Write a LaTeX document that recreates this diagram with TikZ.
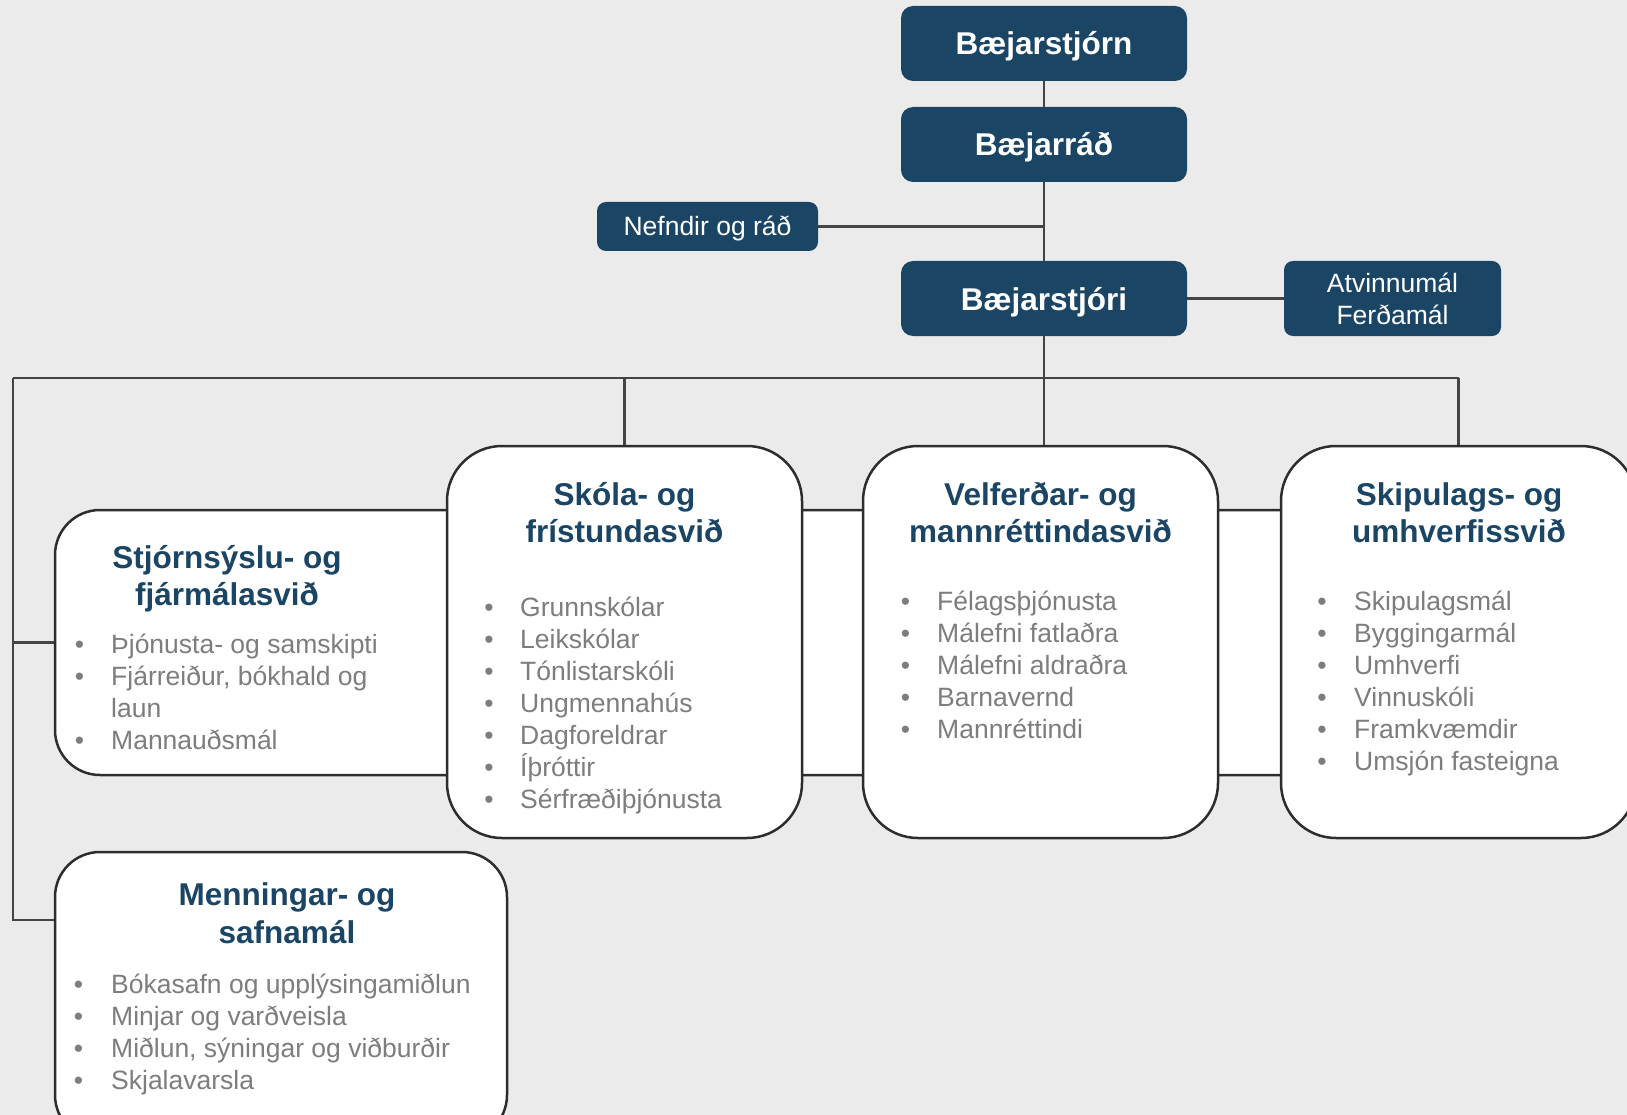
\documentclass[tikz,border=0pt]{standalone}
\usepackage{fontspec}
\setmainfont{Liberation Sans}
\definecolor{navy}{RGB}{27,69,101}
\definecolor{itemgray}{RGB}{125,125,125}
\definecolor{bgc}{RGB}{235,235,235}
\definecolor{linec}{RGB}{68,68,68}
\definecolor{borderc}{RGB}{45,45,45}
\pgfdeclarelayer{bg}
\pgfsetlayers{bg,main}
\begin{document}
\begin{tikzpicture}[x=1pt,y=-1pt,
  darkbox/.style={rectangle, rounded corners=12pt, fill=navy, text=white, inner sep=0pt,
    font=\bfseries\fontsize{31.5}{38}\selectfont, minimum width=286pt, minimum height=75pt,
    text height=23pt, text depth=0pt},
  smallbox/.style={rectangle, rounded corners=9pt, fill=navy, text=white, inner sep=0pt, align=center,
    font=\fontsize{26.5}{32}\selectfont},
  whitebox/.style={rectangle, fill=white, draw=borderc, line width=2.5pt, inner sep=0pt},
  conn/.style={draw=linec, line width=2.5pt},
  ttl/.style={text=navy, font=\bfseries\fontsize{31.5}{38}\selectfont, inner sep=0pt, anchor=base},
  itm/.style={text=itemgray, font=\fontsize{26.5}{32}\selectfont, inner sep=0pt, anchor=base west},
  bdot/.style={text=itemgray, font=\fontsize{26.5}{32}\selectfont, inner sep=0pt, anchor=base}
]
\useasboundingbox (0,0) rectangle (1627,1115);
\clip (0,0) rectangle (1627,1115);

% ---------- boxes ----------
\node[whitebox, rounded corners=45pt, minimum width=1445pt, minimum height=265pt] (band) at (777.5,642.5) {};
\node[whitebox, rounded corners=55pt, minimum width=355pt, minimum height=392pt] (skola) at (624.5,642) {};
\node[whitebox, rounded corners=55pt, minimum width=355pt, minimum height=392pt] (velf) at (1040.5,642) {};
\node[whitebox, rounded corners=55pt, minimum width=355pt, minimum height=392pt] (skip) at (1458.5,642) {};
\node[whitebox, rounded corners=45pt, minimum width=452pt, minimum height=288pt] (menn) at (281,996) {};

\node[darkbox] (b1) at (1044,43.5) {Bæjarstjórn};
\node[darkbox] (b2) at (1044,144.5) {Bæjarráð};
\node[darkbox] (b3) at (1044,298.5) {Bæjarstjóri};
\node[smallbox, minimum width=221pt, minimum height=49pt, text height=19pt, text depth=0pt] (nef) at (707.5,226.5) {Nefndir og ráð};
\node[smallbox, minimum width=217pt, minimum height=75pt] (atv) at (1392.5,298.5) {Atvinnumál\\Ferðamál};

% ---------- connectors ----------
\coordinate (barL) at (13,378);
\coordinate (barR) at (skip.north |- barL);
\coordinate (mj) at (13,920);
\begin{pgfonlayer}{bg}
\fill[bgc] (0,0) rectangle (1627,1115);
\draw[conn] (b1.south) -- (b2.north);
\draw[conn] (b2.south) -- (b3.north);
\draw[conn] (nef.east) -- (nef.east -| b2.south);
\draw[conn] (b3.east) -- (atv.west);
\draw[conn] (b3.south) -- (b3.south |- velf.north);
\draw[conn] (barL) -- (barR);
\draw[conn] (skola.north |- barL) -- (skola.north);
\draw[conn] (barR) -- (skip.north);
\draw[conn] (barL) -- (mj) -- (mj -| menn.west);
\draw[conn] (band.west -| barL) -- (band.west);
\end{pgfonlayer}

% ---------- Stjórnsýslu- og fjármálasvið ----------
\node[ttl] (st1) at (227,568) {Stjórnsýslu- og};
\node[ttl] (st2) at (227,605) {fjármálasvið};
\node[bdot] (std0) at (79.5,653) {•};
\node[itm] (stt0) at (111,653) {Þjónusta- og samskipti};
\node[bdot] (std1) at (79.5,685) {•};
\node[itm] (stt1) at (111,685) {Fjárreiður, bókhald og};
\node[itm] (stt2) at (111,717) {laun};
\node[bdot] (std3) at (79.5,749) {•};
\node[itm] (stt3) at (111,749) {Mannauðsmál};

% ---------- Skóla- og frístundasvið ----------
\node[ttl] (sk1) at (624.5,505) {Skóla- og};
\node[ttl] (sk2) at (624.5,542) {frístundasvið};
\foreach \t [count=\i from 0] in {Grunnskólar,Leikskólar,Tónlistarskóli,Ungmennahús,Dagforeldrar,Íþróttir,Sérfræðiþjónusta}{
  \node[bdot] (skd\i) at (489,{616+32*\i}) {•};
  \node[itm] (skt\i) at (520,{616+32*\i}) {\t};
}

% ---------- Velferðar- og mannréttindasvið ----------
\node[ttl] (ve1) at (1040.5,505) {Velferðar- og};
\node[ttl] (ve2) at (1040.5,542) {mannréttindasvið};
\foreach \t [count=\i from 0] in {Félagsþjónusta,Málefni fatlaðra,Málefni aldraðra,Barnavernd,Mannréttindi}{
  \node[bdot] (ved\i) at (905.5,{610+32*\i}) {•};
  \node[itm] (vet\i) at (937,{610+32*\i}) {\t};
}

% ---------- Skipulags- og umhverfissvið ----------
\node[ttl] (sp1) at (1459,505) {Skipulags- og};
\node[ttl] (sp2) at (1459,542) {umhverfissvið};
\foreach \t [count=\i from 0] in {Skipulagsmál,Byggingarmál,Umhverfi,Vinnuskóli,Framkvæmdir,Umsjón fasteigna}{
  \node[bdot] (spd\i) at (1322,{610+32*\i}) {•};
  \node[itm] (spt\i) at (1354,{610+32*\i}) {\t};
}

% ---------- Menningar- og safnamál ----------
\node[ttl] (me1) at (287,905) {Menningar- og};
\node[ttl] (me2) at (287,943) {safnamál};
\foreach \t [count=\i from 0] in {Bókasafn og upplýsingamiðlun,Minjar og varðveisla,{Miðlun, sýningar og viðburðir},Skjalavarsla}{
  \node[bdot] (med\i) at (78.5,{993+32*\i}) {•};
  \node[itm] (met\i) at (111,{993+32*\i}) {\t};
}
\end{tikzpicture}
\end{document}
